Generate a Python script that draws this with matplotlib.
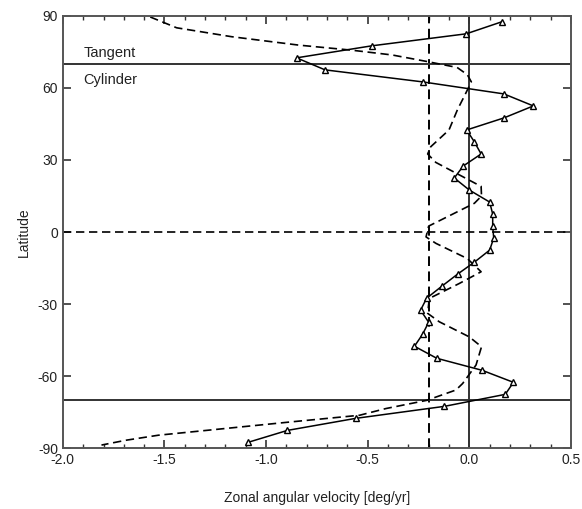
import numpy as np
import matplotlib
matplotlib.use('Agg')
import matplotlib.pyplot as plt
from matplotlib.ticker import MultipleLocator

plt.rcParams['font.family'] = ['Liberation Sans', 'DejaVu Sans']
plt.rcParams['axes.unicode_minus'] = False

# perfil con triangulos (bandas de 5 grados)
latitud = np.arange(87.5, -90, -5.0)
velocidad = [0.16, -0.015, -0.48, -0.85, -0.71, -0.23, 0.17, 0.315, 0.17, -0.013,
             0.025, 0.058, -0.03, -0.074, 0.0, 0.10, 0.115, 0.115, 0.12, 0.10,
             0.025, -0.058, -0.135, -0.21, -0.24, -0.20, -0.23, -0.27, -0.16, 0.063,
             0.217, 0.177, -0.123, -0.56, -0.895, -1.09]

# perfil a trazos
lat_trazos = [89.5, 85, 81.3, 77.8, 75.7, 73.7, 71, 68.5, 65.5, 62.5, 56.5, 51, 42.5,
              35.5, 32.5, 29, 19, 15, 12, 2.5, -2, -4.7, -11, -16.5, -21.4, -27.6,
              -33.8, -37.3, -43.6, -47.7, -55.3, -63, -65.7, -70, -73.4, -76.2,
              -78.9, -81.7, -84.5, -86.6, -88.6]
vel_trazos = [-1.57, -1.44, -1.17, -0.84, -0.58, -0.38, -0.21, -0.06, -0.01, 0.01,
              -0.025, -0.058, -0.10, -0.19, -0.205, -0.165, 0.058, 0.06, 0.025, -0.20,
              -0.213, -0.164, -0.01, 0.058, -0.05, -0.197, -0.205, -0.148, 0.0, 0.06,
              0.033, -0.033, -0.066, -0.21, -0.41, -0.54, -0.87, -1.2, -1.53, -1.69,
              -1.81]

cilindro = 70
media = -0.2

fig = plt.figure(figsize=(5.82, 5.09), dpi=100)
ax = fig.add_axes([0.108, 0.119, 0.873, 0.850])

gris = '#333333'
trazo = (0, (5, 2.8))
ax.axvline(0, color=gris, lw=1.4)
ax.axvline(media, color='black', lw=1.4, ls=trazo)
ax.axhline(0, color='black', lw=1.2, ls=trazo)
ax.axhline(cilindro, color=gris, lw=1.4)
ax.axhline(-cilindro, color=gris, lw=1.4)

ax.plot(vel_trazos, lat_trazos, color='black', lw=1.2, ls=trazo)
ax.plot(velocidad, latitud, color='black', lw=1.1, marker='^', ms=5,
        mfc='white', mec='black', mew=1.0)

ax.text(-1.9, 73, 'Tangent', fontsize=10.5, color='#222222')
ax.text(-1.9, 61.5, 'Cylinder', fontsize=10.5, color='#222222')

ax.set_xlim(-2.0, 0.5)
ax.set_ylim(-90, 90)
ax.xaxis.set_major_locator(MultipleLocator(0.5))
ax.xaxis.set_minor_locator(MultipleLocator(0.1))
ax.yaxis.set_major_locator(MultipleLocator(30))
ax.xaxis.set_major_formatter(matplotlib.ticker.FormatStrFormatter('%.1f'))
ax.tick_params(which='both', direction='in', top=True, right=True, labelsize=10,
               colors=gris, labelcolor='#222222')
ax.tick_params(which='major', length=6, width=1.2)
ax.tick_params(which='minor', length=3, width=1.0)
for s in ax.spines.values():
    s.set_color('#555555')
    s.set_linewidth(1.4)

ax.set_xlabel('Zonal angular velocity [deg/yr]', fontsize=10, color='#222222', labelpad=17)
ax.set_ylabel('Latitude', fontsize=10, color='#222222', labelpad=5)

fig.savefig('out.png', dpi=100)
